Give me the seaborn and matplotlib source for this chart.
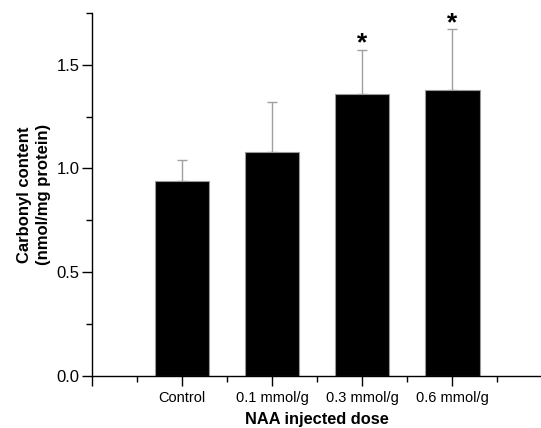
import matplotlib
matplotlib.use("Agg")
import matplotlib.pyplot as plt
import seaborn as sns
import numpy as np
import pandas as pd
from matplotlib.ticker import MultipleLocator, FixedLocator

categories = ["Control", "0.1 mmol/g", "0.3 mmol/g", "0.6 mmol/g"]
means = [0.94, 1.08, 1.36, 1.38]
errors = [0.10, 0.24, 0.21, 0.29]
significant = [False, False, True, True]

sns.set_theme(style="ticks")
plt.rcParams['font.family'] = ['Liberation Sans', 'DejaVu Sans']
plt.rcParams['text.color'] = 'black'
plt.rcParams['axes.labelcolor'] = 'black'

df = pd.DataFrame({"dose": categories, "value": means})

fig = plt.figure(figsize=(5.41, 4.28), dpi=100)
ax = fig.add_axes([0.170, 0.1215, 0.832, 0.8485])

sns.barplot(data=df, x="dose", y="value", order=categories, color="black",
            width=0.61, edgecolor="#9a9a9a", linewidth=0.8, errorbar=None,
            saturation=1, ax=ax, zorder=2)

pos = np.arange(len(categories))
ax.errorbar(pos, means, yerr=[np.zeros(len(errors)), errors], fmt="none",
            ecolor="#a0a0a0", elinewidth=1.0, capsize=3.5, capthick=1.0, zorder=1)

for p, m, e, s in zip(pos, means, errors, significant):
    if s:
        ax.annotate("*", (p, m + e), xytext=(0, -4), textcoords="offset points",
                    ha="center", va="bottom", fontsize=19, fontweight="bold",
                    color="black")

ax.set_xlim(-1, 4)
ax.set_ylim(0, 1.75)
ax.xaxis.set_major_locator(FixedLocator([-1, 0, 1, 2, 3, 4]))
ax.set_xticklabels([""] + categories + [""])
ax.xaxis.set_minor_locator(FixedLocator([-0.5, 0.5, 1.5, 2.5, 3.5]))
ax.yaxis.set_major_locator(MultipleLocator(0.5))
ax.yaxis.set_minor_locator(MultipleLocator(0.25))
ax.yaxis.set_major_formatter(matplotlib.ticker.FormatStrFormatter("%.1f"))

ax.tick_params(axis="both", which="major", direction="out", length=7, width=1,
               color="black", labelcolor="black")
ax.tick_params(axis="both", which="minor", direction="out", length=4, width=1,
               color="black")
ax.tick_params(axis="x", which="major", pad=4, labelsize=10.5)
ax.tick_params(axis="y", which="major", labelsize=12, pad=2)

sns.despine(ax=ax, top=True, right=True)
for sp in ["left", "bottom"]:
    ax.spines[sp].set_color("black")
    ax.spines[sp].set_linewidth(1.0)
    ax.spines[sp].set_zorder(3)

ax.set_xlabel("NAA injected dose", fontsize=11.8, fontweight="bold", labelpad=5)
ax.set_ylabel("Carbonyl content\n(nmol/mg protein)", fontsize=12, fontweight="bold",
              labelpad=4, linespacing=1.35)
ax.set_facecolor("white")
fig.patch.set_facecolor("white")

fig.savefig("out.png", dpi=100)
